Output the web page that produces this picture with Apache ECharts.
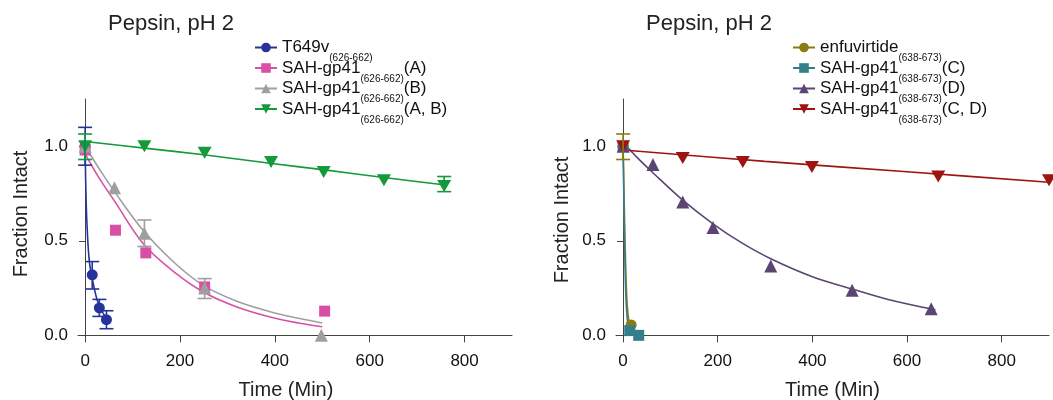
<!DOCTYPE html>
<html>
<head>
<meta charset="utf-8">
<script src="https://cdn.jsdelivr.net/npm/echarts@6/dist/echarts.min.js"></script>
<style>
  html,body{margin:0;padding:0;background:#fff;}
  #chart{width:1053px;height:400px;}
</style>
</head>
<body>
<div id="chart"></div>
<script>
// ---- data ----
var xTicks = [0, 200, 400, 600, 800];
var yTicks = [0, 0.5, 1.0];

// left panel (626-662)
var t649vT = [0, 15, 30, 45];
var t649vY = [1.0, 0.32, 0.145, 0.083];
var t649vErr = [[0, 0.9, 1.1], [15, 0.245, 0.39], [30, 0.10, 0.19], [45, 0.035, 0.13]];
var t649vFit = [[0, 1.0], [2, 0.72], [5, 0.53], [9, 0.39], [15, 0.3], [25, 0.19], [35, 0.13], [45, 0.09], [50, 0.075]];

var sahAT = [0, 64, 128, 252, 505];
var sahAY = [0.98, 0.556, 0.436, 0.256, 0.128];
var sahAFit = [[0, 0.96], [30, 0.83], [62, 0.71], [124, 0.48], [190, 0.33], [252, 0.225], [320, 0.15], [390, 0.097], [450, 0.065], [500, 0.045]];

var sahBT = [0, 62, 125, 252, 498];
var sahBY = [1.0, 0.78, 0.54, 0.25, 0.0];
var sahBErr = [[125, 0.47, 0.61], [252, 0.195, 0.30]];
var sahBFit = [[0, 1.0], [30, 0.88], [62, 0.76], [124, 0.55], [190, 0.38], [252, 0.26], [320, 0.18], [390, 0.125], [450, 0.09], [500, 0.065]];

var sahABT = [0, 125, 252, 392, 503, 630, 757];
var sahABY = [1.0, 1.0, 0.966, 0.917, 0.864, 0.82, 0.79];
var sahABErr = [[0, 0.93, 1.065], [757, 0.76, 0.84]];
var sahABFit = [[0, 1.025], [125, 0.99], [250, 0.955], [390, 0.91], [505, 0.875], [630, 0.835], [760, 0.795]];

// right panel (638-673)
var enfT = [0, 17];
var enfY = [1.0, 0.055];
var enfErr = [[0, 0.93, 1.065]];
var enfFit = [[0, 1.0], [3, 0.62], [6, 0.32], [9, 0.15], [13, 0.065], [18, 0.025], [25, 0.008], [32, 0.0]];

var sahCT = [0, 14, 33];
var sahCY = [1.0, 0.025, 0.0];
var sahCFit = [[0, 1.0], [3, 0.5], [6, 0.2], [10, 0.06], [15, 0.02], [22, 0.005], [33, 0.0]];

var sahDT = [0, 63, 126, 190, 312, 484, 651];
var sahDY = [1.0, 0.903, 0.705, 0.57, 0.367, 0.238, 0.141];
var sahDFit = [[0, 1.02], [30, 0.94], [63, 0.86], [126, 0.715], [190, 0.59], [250, 0.49], [312, 0.405], [400, 0.31], [484, 0.245], [560, 0.19], [660, 0.135]];

var sahCDT = [0, 126, 253, 399, 666, 900];
var sahCDY = [1.0, 0.938, 0.917, 0.89, 0.84, 0.82];
var sahCDFit = [[0, 0.98], [300, 0.92], [600, 0.865], [900, 0.81]];

// legend labels: [main, subscript, suffix]
var leftLabels = [
  ['T649v', '(626-662)', ''],
  ['SAH-gp41', '(626-662)', '(A)'],
  ['SAH-gp41', '(626-662)', '(B)'],
  ['SAH-gp41', '(626-662)', '(A, B)']
];
var rightLabels = [
  ['enfuvirtide', '(638-673)', ''],
  ['SAH-gp41', '(638-673)', '(C)'],
  ['SAH-gp41', '(638-673)', '(D)'],
  ['SAH-gp41', '(638-673)', '(C, D)']
];

var FONT = 'Liberation Sans, Arial, Helvetica, sans-serif';
var labelMap = {};
function nm(l){ var n = l.join(''); labelMap[n] = l; return n; }
var leftNames = leftLabels.map(nm);
var rightNames = rightLabels.map(nm);

function zip(xs, ys){ return xs.map(function(x, i){ return [x, ys[i]]; }); }

function points(name, idx, xs, ys, color, symbol, size, rot){
  return {
    name: name, type: 'line', xAxisIndex: idx, yAxisIndex: idx,
    data: zip(xs, ys), color: color,
    symbol: symbol, symbolSize: size, symbolRotate: rot || 0, showAllSymbol: true,
    lineStyle: {opacity: 0, width: 2, color: color},
    itemStyle: {color: color},
    z: 4, emphasis: {disabled: true}
  };
}
function fit(idx, data, color){
  return {
    type: 'line', xAxisIndex: idx, yAxisIndex: idx, data: data,
    showSymbol: false, smooth: 0.35, silent: true,
    lineStyle: {color: color, width: 1.6}, z: 3
  };
}
function errbars(idx, data, color){
  return {
    type: 'custom', xAxisIndex: idx, yAxisIndex: idx, data: data, silent: true, z: 5,
    encode: {x: 0, y: [1, 2]},
    renderItem: function(params, api){
      var x = api.value(0);
      var lo = api.coord([x, api.value(1)]);
      var hi = api.coord([x, api.value(2)]);
      var w = 7, st = {stroke: color, lineWidth: 1.6};
      return {type: 'group', children: [
        {type: 'line', shape: {x1: lo[0], y1: lo[1], x2: hi[0], y2: hi[1]}, style: st},
        {type: 'line', shape: {x1: lo[0]-w, y1: lo[1], x2: lo[0]+w, y2: lo[1]}, style: st},
        {type: 'line', shape: {x1: hi[0]-w, y1: hi[1], x2: hi[0]+w, y2: hi[1]}, style: st}
      ]};
    }
  };
}

function xAx(idx, pad){
  return {
    gridIndex: idx, type: 'value', min: -15, max: 900,
    splitLine: {show: false},
    axisLine: {onZero: true, lineStyle: {color: '#444', width: 1}},
    axisTick: {show: true, length: 7, customValues: xTicks, lineStyle: {color: '#444'}},
    axisLabel: {customValues: xTicks, fontSize: 17, color: '#111', fontFamily: FONT, margin: 12},
    name: 'Time (Min)', nameLocation: 'middle', nameGap: 39,
    nameTextStyle: {fontSize: 20, color: '#222', fontFamily: FONT, padding: pad}
  };
}
function yAx(idx, gap, pad){
  return {
    gridIndex: idx, type: 'value', min: -0.03, max: 1.25,
    splitLine: {show: false},
    axisLine: {onZero: true, lineStyle: {color: '#444', width: 1}},
    axisTick: {show: true, length: 6, customValues: yTicks, lineStyle: {color: '#444'}},
    axisLabel: {customValues: yTicks, fontSize: 17, color: '#111', fontFamily: FONT, margin: 10,
      formatter: function(v){ return v.toFixed(1); }},
    name: 'Fraction Intact', nameLocation: 'middle', nameGap: gap,
    nameTextStyle: {fontSize: 20, color: '#222', fontFamily: FONT, padding: pad}
  };
}
function legend(left, names){
  return {
    orient: 'vertical', left: left, top: 39, padding: 0,
    itemWidth: 22, itemHeight: 12, itemGap: -4,
    data: names,
    lineStyle: {width: 2, opacity: 1},
    selectedMode: false,
    formatter: function(n){
      var l = labelMap[n];
      return '{m|' + l[0] + '}{s|' + l[1] + '}' + (l[2] ? '{m|' + l[2] + '}' : '');
    },
    textStyle: {
      fontFamily: FONT, color: '#111',
      rich: {
        m: {fontSize: 17, lineHeight: 18, fontFamily: FONT, color: '#111'},
        s: {fontSize: 10, padding: [22, 0, 0, 0], fontFamily: FONT, color: '#111'}
      }
    }
  };
}

var cBlue = '#25339b', cPink = '#d94fa6', cGrey = '#9f9f9f', cGreen = '#139a3b';
var cOlive = '#8a7c10', cTeal = '#357d8b', cPurple = '#5b4575', cRed = '#9e1410';

var chart = echarts.init(document.getElementById('chart'), null, {renderer: 'canvas'});
chart.setOption({
  animation: false,
  backgroundColor: '#fff',
  textStyle: {fontFamily: FONT},
  title: [
    {text: 'Pepsin, pH 2', left: 103, top: 8, textStyle: {fontSize: 22, fontWeight: 'normal', color: '#222', fontFamily: FONT}},
    {text: 'Pepsin, pH 2', left: 641, top: 8, textStyle: {fontSize: 22, fontWeight: 'normal', color: '#222', fontFamily: FONT}}
  ],
  legend: [legend(254, leftNames), legend(792, rightNames)],
  grid: [
    {left: 78, top: 99, width: 434, height: 242, outerBoundsMode: 'none'},
    {left: 616, top: 99, width: 433, height: 242, outerBoundsMode: 'none'}
  ],
  xAxis: [xAx(0, [0, 18, 0, 0]), xAx(1, 0)],
  yAxis: [yAx(0, 47, [0, 0, 0, 12]), yAx(1, 44, 0)],
  series: [
    fit(0, t649vFit, cBlue),
    fit(0, sahAFit, cPink),
    fit(0, sahBFit, cGrey),
    fit(0, sahABFit, cGreen),
    points(leftNames[0], 0, t649vT, t649vY, cBlue, 'circle', 11),
    points(leftNames[1], 0, sahAT, sahAY, cPink, 'rect', 11),
    points(leftNames[2], 0, sahBT, sahBY, cGrey, 'triangle', 13),
    points(leftNames[3], 0, sahABT, sahABY, cGreen, 'triangle', [14, 12], 180),
    errbars(0, t649vErr, cBlue),
    errbars(0, sahBErr, cGrey),
    errbars(0, sahABErr, cGreen),

    fit(1, enfFit, cOlive),
    fit(1, sahCFit, cTeal),
    fit(1, sahDFit, cPurple),
    fit(1, sahCDFit, cRed),
    points(rightNames[0], 1, enfT, enfY, cOlive, 'circle', 11),
    points(rightNames[1], 1, sahCT, sahCY, cTeal, 'rect', 11),
    points(rightNames[2], 1, sahDT, sahDY, cPurple, 'triangle', 13),
    points(rightNames[3], 1, sahCDT, sahCDY, cRed, 'triangle', [14, 12], 180),
    errbars(1, enfErr, cOlive)
  ]
});
</script>
</body>
</html>
